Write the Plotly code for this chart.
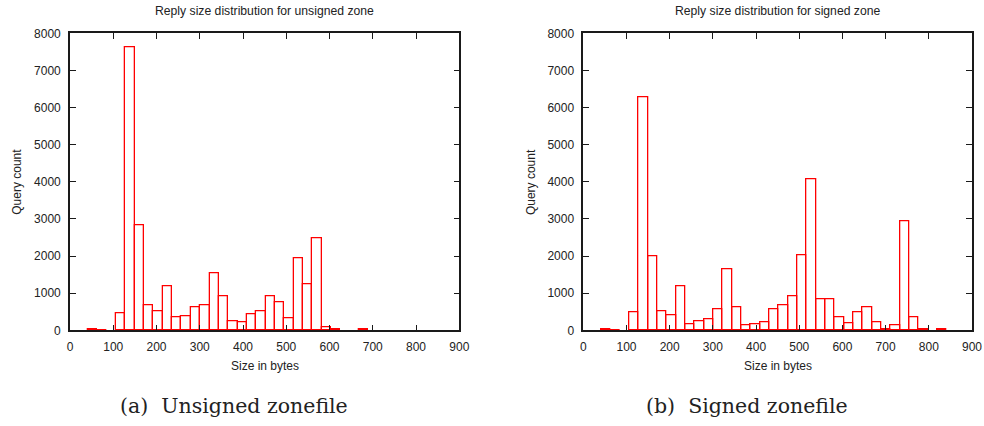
import plotly.graph_objects as go

# Histogram bin centres (bytes); bins are ~21.6 bytes wide
bin_centers = [52.5, 74.1, 95.7, 117.3, 138.9, 160.5, 182.1, 203.7, 225.3, 246.9,
               268.5, 290.1, 311.7, 333.3, 354.9, 376.5, 398.1, 419.7, 441.3, 462.9,
               484.5, 506.1, 527.7, 549.3, 570.9, 592.5, 614.1, 635.7, 657.3, 678.9,
               700.5, 722.1, 743.7, 765.3, 786.9, 808.5, 830.1]
bin_width = 21.6

unsigned_counts = [15, 10, 0, 450, 7620, 2830, 674, 503, 1195, 359,
                   386, 629, 674, 1537, 917, 252, 225, 431, 503, 917,
                   760, 332, 1932, 1249, 2480, 90, 27, 0, 0, 20,
                   0, 0, 0, 0, 0, 0, 0]
signed_counts = [15, 10, 0, 494, 6280, 1985, 503, 404, 1195, 162,
                 243, 297, 575, 1635, 620, 126, 162, 207, 557, 683,
                 926, 2022, 4060, 836, 836, 341, 180, 485, 611, 225,
                 27, 126, 2929, 341, 15, 0, 15]

titles = ["Reply size distribution for unsigned zone", "Reply size distribution for signed zone"]
captions = ["(a)  Unsigned zonefile", "(b)  Signed zonefile"]
x_ticks = [0, 100, 200, 300, 400, 500, 600, 700, 800, 900]
y_ticks = [0, 1000, 2000, 3000, 4000, 5000, 6000, 7000, 8000]

W, H = 984, 426
def px(x):
    return x / W
def py(y):
    return 1 - y / H

fig = go.Figure()
for i, counts in enumerate([unsigned_counts, signed_counts]):
    xs = [c for c, v in zip(bin_centers, counts) if v > 0]
    ys = [v for v in counts if v > 0]
    fig.add_trace(go.Bar(
        x=xs, y=ys, width=bin_width,
        marker=dict(color="rgba(255,255,255,0)", line=dict(color="#ff0000", width=1.3)),
        xaxis="x" if i == 0 else "x2", yaxis="y" if i == 0 else "y2",
        showlegend=False, hoverinfo="x+y"))

font_sans = "Liberation Sans, Arial, sans-serif"
axis_common = dict(showline=True, linecolor="#1a1a1a", linewidth=1.6, mirror="allticks",
                   ticks="inside", ticklen=6, tickwidth=1.2, tickcolor="#1a1a1a",
                   showgrid=False, zeroline=False, automargin=False,
                   tickfont=dict(family=font_sans, size=12, color="#222"))

plot_x = [(70, 459.3), (583.3, 972)]
y_top, y_bot = 33.3, 330.3

layout = dict(width=W, height=H, margin=dict(l=0, r=0, t=0, b=0, autoexpand=False),
              paper_bgcolor="white", plot_bgcolor="white", bargap=0)
for i, (x0, x1) in enumerate(plot_x):
    sx = "" if i == 0 else "2"
    layout["xaxis" + sx] = dict(axis_common, domain=[px(x0), px(x1)], range=[0, 900],
                                tickvals=x_ticks, anchor="y" + sx, ticklabelstandoff=4)
    layout["yaxis" + sx] = dict(axis_common, domain=[py(y_bot), py(y_top)], range=[0, 8000],
                                tickvals=y_ticks, anchor="x" + sx, ticklabelstandoff=5)
fig.update_layout(**layout)

anns = []
for i, (x0, x1) in enumerate(plot_x):
    cx = (x0 + x1) / 2
    anns.append(dict(text=titles[i], x=px(cx), y=py(11), xref="paper", yref="paper",
                     showarrow=False, font=dict(family=font_sans, size=12.2, color="#222"),
                     xanchor="center", yanchor="middle"))
    anns.append(dict(text="Size in bytes", x=px(cx), y=py(366), xref="paper", yref="paper",
                     showarrow=False, font=dict(family=font_sans, size=12, color="#222"),
                     xanchor="center", yanchor="middle"))
    anns.append(dict(text="Query count", x=px(x0 - 53), y=py((y_top + y_bot) / 2),
                     xref="paper", yref="paper", textangle=-90,
                     showarrow=False, font=dict(family=font_sans, size=12, color="#222"),
                     xanchor="center", yanchor="middle"))
    anns.append(dict(text=captions[i], x=px(cx - 31), y=py(406), xref="paper", yref="paper",
                     showarrow=False, font=dict(family="DejaVu Serif, serif", size=20.5, color="#222"),
                     xanchor="center", yanchor="middle"))
fig.update_layout(annotations=anns)

fig.write_html("out.html")
